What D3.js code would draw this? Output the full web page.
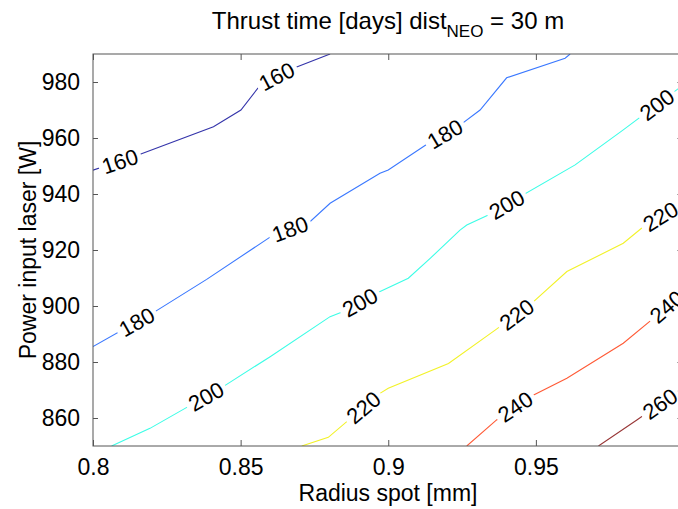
<!DOCTYPE html>
<html>
<head>
<meta charset="utf-8">
<script src="https://cdn.jsdelivr.net/npm/d3@7"></script>
<style>
  body { margin: 0; background: #fff; }
  text { font-family: 'Liberation Sans', Arial, Helvetica, sans-serif; }
</style>
</head>
<body>
<div id="root"></div>
<script>
// contour levels and their line colours (jet-like)
const levels = [160, 180, 200, 220, 240, 260]
const levelColors = ['#3434aa', '#3a78ff', '#3cfde6', '#f2f228', '#ff5a36', '#983636']

// contour polylines, [radius spot mm, power W]
const line160 = [[0.8, 948.5], [0.8153, 953.9], [0.8408, 964.0], [0.8501, 970.0], [0.8571, 979.5], [0.8679, 984.9], [0.8803, 990.0]]
const line180 = [[0.8, 885.5], [0.821, 898.0], [0.8385, 909.5], [0.8611, 925.4], [0.8735, 930.1], [0.8803, 936.7], [0.8972, 947.4],
  [0.9, 948.6], [0.9136, 958.1], [0.9243, 964.6], [0.9311, 970.0], [0.9401, 981.5], [0.9599, 988.5], [0.9616, 990.0]]
const line200 = [[0.8063, 850.0], [0.8193, 856.3], [0.8441, 871.2], [0.86, 881.9], [0.8803, 896.2], [0.8848, 898.0], [0.8949, 904.0],
  [0.9068, 909.9], [0.9142, 917.0], [0.9243, 927.1], [0.9266, 928.9], [0.9339, 932.5], [0.9633, 950.4], [0.9796, 962.9], [1.0, 979.0]]
const line220 = [[0.8707, 850.0], [0.8797, 853.1], [0.8972, 868.8], [0.9, 870.6], [0.9204, 879.5], [0.9362, 891.4], [0.948, 900.4],
  [0.9605, 912.3], [0.9796, 922.4], [0.9864, 928.3], [1.0, 937.0]]
const line240 = [[0.9266, 850.0], [0.9367, 859.3], [0.9469, 867.0], [0.9605, 874.2], [0.9796, 886.7], [0.9898, 895.6], [1.0, 905.0]]
const line260 = [[0.9712, 850.0], [0.9842, 859.3], [1.0, 871.0]]
const contourLines = [line160, line180, line200, line220, line240, line260]

// where the inline labels sit (radius spot value along each line)
const labelsAt = [[0.8091, 0.8622], [0.8148, 0.8667, 0.9192], [0.8383, 0.8904, 0.9401, 0.991], [0.8916, 0.9435, 0.9922], [0.943, 0.9943], [0.992]]

const xTicks = [0.8, 0.85, 0.9, 0.95]
const yTicks = [860, 880, 900, 920, 940, 960, 980]

const width = 678
const height = 509
const margin = { top: 54, left: 93, bottom: 63 }
const plotRight = 683.5
const fontSize = 23

const svg = d3.select('#root').append('svg')
  .attr('width', width)
  .attr('height', height)

const x = d3.scaleLinear().domain([0.8, 1.0]).range([margin.left, plotRight])
const y = d3.scaleLinear().domain([850, 990]).range([height - margin.bottom, margin.top])

svg.append('defs').append('clipPath').attr('id', 'plotclip')
  .append('rect')
  .attr('x', margin.left).attr('y', margin.top)
  .attr('width', plotRight - margin.left).attr('height', y(850) - margin.top)

const plot = svg.append('g').attr('clip-path', 'url(#plotclip)')

// lines
const lineGen = d3.line().x(d => x(d[0])).y(d => y(d[1]))
plot.selectAll('path.contour')
  .data(contourLines)
  .join('path')
  .attr('class', 'contour')
  .attr('d', lineGen)
  .attr('fill', 'none')
  .attr('stroke', (d, i) => levelColors[i])
  .attr('stroke-width', 1.1)

// y on a polyline at pixel px (pixel space)
function yAtPx (pts, px) {
  const p = pts.map(d => [x(d[0]), y(d[1])])
  let i = 1
  while (i < p.length - 1 && px > p[i][0]) i++
  const a = p[i - 1]; const b = p[i]
  return a[1] + (b[1] - a[1]) * (px - a[0]) / (b[0] - a[0])
}

// inline labels with a white gap in the line
const labelData = []
labelsAt.forEach((xs, i) => {
  xs.forEach(v => {
    const px = x(v)
    const py = yAtPx(contourLines[i], px)
    const y0 = yAtPx(contourLines[i], px - 17)
    const y1 = yAtPx(contourLines[i], px + 17)
    const ang = Math.atan2(y1 - y0, 34) * 180 / Math.PI
    labelData.push({ text: levels[i], px, py, ang })
  })
})

const labels = plot.selectAll('g.clabel')
  .data(labelData)
  .join('g')
  .attr('class', 'clabel')
  .attr('transform', d => `translate(${d.px},${d.py}) rotate(${d.ang})`)
labels.append('rect')
  .attr('x', -22).attr('y', -9)
  .attr('width', 44).attr('height', 18)
  .attr('fill', '#fff')
labels.append('text')
  .attr('text-anchor', 'middle')
  .attr('dy', '0.36em')
  .attr('font-size', 22)
  .attr('fill', '#000')
  .text(d => d.text)

// axes box
const axisColor = '#555'
const axes = svg.append('g')
axes.append('rect')
  .attr('x', margin.left).attr('y', margin.top)
  .attr('width', plotRight - margin.left).attr('height', y(850) - margin.top)
  .attr('fill', 'none').attr('stroke', axisColor).attr('stroke-width', 1)

const xAxisContainer = svg.append('g')
  .attr('transform', `translate(0, ${y(850)})`)
  .call(d3.axisBottom(x).tickValues(xTicks).tickSizeInner(-6).tickSizeOuter(0).tickPadding(13).tickFormat(d3.format('')))
const xTopContainer = svg.append('g')
  .attr('transform', `translate(0, ${margin.top})`)
  .call(d3.axisTop(x).tickValues(xTicks).tickSizeInner(-6).tickSizeOuter(0).tickFormat(''))
const yAxisContainer = svg.append('g')
  .attr('transform', `translate(${margin.left}, 0)`)
  .call(d3.axisLeft(y).tickValues(yTicks).tickSizeInner(-5).tickSizeOuter(0).tickPadding(13))
const yRightContainer = svg.append('g')
  .attr('transform', `translate(${plotRight}, 0)`)
  .call(d3.axisRight(y).tickValues(yTicks).tickSizeInner(-6).tickSizeOuter(0).tickFormat(''))

;[xAxisContainer, xTopContainer, yAxisContainer, yRightContainer].forEach(g => {
  g.select('.domain').remove()
  g.selectAll('line').attr('stroke', axisColor)
  g.selectAll('text').attr('font-size', fontSize).attr('fill', '#000')
    .style('font-family', "'Liberation Sans', Arial, sans-serif")
})

// titles
svg.append('text')
  .attr('x', 388).attr('y', 501)
  .attr('text-anchor', 'middle')
  .attr('font-size', fontSize)
  .text('Radius spot [mm]')

svg.append('text')
  .attr('transform', `translate(36, ${(margin.top + y(850)) / 2}) rotate(-90)`)
  .attr('text-anchor', 'middle')
  .attr('font-size', fontSize)
  .text('Power input laser [W]')

const title = svg.append('text')
  .attr('x', 388).attr('y', 29)
  .attr('text-anchor', 'middle')
  .attr('font-size', fontSize + 1)
title.append('tspan').text('Thrust time [days] dist')
title.append('tspan').attr('font-size', 17).attr('dy', 8).text('NEO')
title.append('tspan').attr('dy', -8).text(' = 30 m')
</script>
</body>
</html>
